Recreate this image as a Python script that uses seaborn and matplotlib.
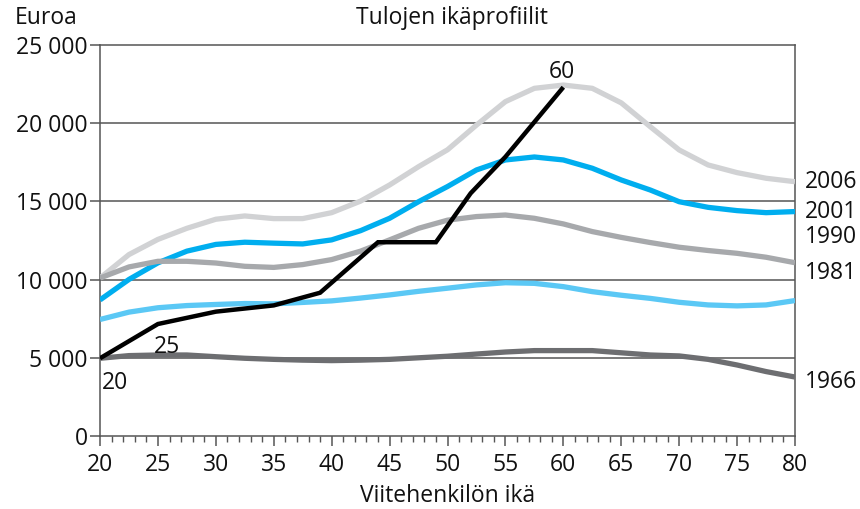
import numpy as np
import pandas as pd
import matplotlib
matplotlib.use("Agg")
import matplotlib.pyplot as plt
import seaborn as sns
from matplotlib.ticker import FuncFormatter, MultipleLocator

# Ikä (viitehenkilö), 2,5 vuoden välein
ika = [20, 22.5, 25, 27.5, 30, 32.5, 35, 37.5, 40, 42.5, 45, 47.5, 50,
       52.5, 55, 57.5, 60, 62.5, 65, 67.5, 70, 72.5, 75, 77.5, 80]

tulot_1966 = [4970, 5140, 5180, 5180, 5070, 4970, 4900, 4850, 4820, 4850, 4900, 5000, 5100,
              5240, 5370, 5460, 5460, 5460, 5320, 5180, 5120, 4900, 4540, 4120, 3770]
tulot_1981 = [7450, 7920, 8200, 8340, 8410, 8470, 8450, 8540, 8640, 8820, 9020, 9250, 9450,
              9660, 9800, 9760, 9550, 9230, 9000, 8800, 8550, 8380, 8320, 8380, 8660]
tulot_1990 = [10100, 10810, 11170, 11170, 11060, 10850, 10780, 10960, 11280, 11820, 12540, 13280, 13800,
              14030, 14130, 13920, 13560, 13070, 12700, 12370, 12070, 11860, 11680, 11430, 11080]
tulot_2001 = [8700, 10010, 11070, 11820, 12250, 12390, 12330, 12280, 12540, 13130, 13920, 14980, 15950,
              17010, 17650, 17840, 17650, 17120, 16370, 15730, 14980, 14620, 14410, 14280, 14350]
tulot_2006 = [10100, 11600, 12570, 13280, 13860, 14070, 13900, 13900, 14280, 15020, 16050, 17220, 18300,
              19880, 21380, 22230, 22440, 22230, 21300, 19780, 18290, 17330, 16840, 16480, 16260]

# Kohortti (ikä 20 -> 60)
kohortti_ika = [20, 25, 30, 35, 39, 44, 49, 52, 55, 60]
kohortti_tulot = [4970, 7160, 7950, 8350, 9160, 12390, 12390, 15520, 17850, 22300]

vuodet = ["2006", "2001", "1990", "1981", "1966"]
sarjat = [tulot_2006, tulot_2001, tulot_1990, tulot_1981, tulot_1966]
varit = ["#d1d2d4", "#00aeef", "#a7a9ac", "#5bc8f5", "#6d6e71"]
# tekstien y-paikat oikealla reunalla
nimi_y = [16250, 14330, 12700, 10400, 3450]

sns.set_style("white")
plt.rcParams['font.family'] = ['Open Sans', 'DejaVu Sans']
fs = 16.5

fig = plt.figure(figsize=(8.6, 5.09), dpi=100)
ax = fig.add_axes([100 / 860, 1 - 436 / 509, 695 / 860, 391 / 509])

# ruudukko
for g in [5000, 10000, 15000, 20000]:
    ax.axhline(g, color="#555555", lw=1.1, zorder=1)

for nimi, arvot, vari in zip(vuodet, sarjat, varit):
    sns.lineplot(x=ika, y=arvot, color=vari, lw=3.8, ax=ax, zorder=3,
                 solid_capstyle="butt", solid_joinstyle="round")

sns.lineplot(x=kohortti_ika, y=kohortti_tulot, color="black", lw=3.2, ax=ax, zorder=4,
             solid_capstyle="butt", solid_joinstyle="miter")

for nimi, y in zip(vuodet, nimi_y):
    ax.annotate(nimi, xy=(80, y), xytext=(7, 0), textcoords="offset points",
                fontsize=fs, va="center", ha="left", annotation_clip=False, color="#111111")

ax.annotate("20", xy=(20, 4970), xytext=(1, -9), textcoords="offset points",
            fontsize=fs, va="top", ha="left", color="#111111")
ax.annotate("25", xy=(25, 7160), xytext=(-3, -8), textcoords="offset points",
            fontsize=fs, va="top", ha="left", color="#111111")
ax.annotate("60", xy=(60, 22300), xytext=(-1, 2), textcoords="offset points",
            fontsize=fs, va="bottom", ha="center", color="#111111")

ax.set_xlim(20, 80)
ax.set_ylim(0, 25000)
ax.xaxis.set_major_locator(MultipleLocator(5))
ax.xaxis.set_minor_locator(MultipleLocator(1))
ax.yaxis.set_major_locator(MultipleLocator(5000))
ax.yaxis.set_major_formatter(FuncFormatter(lambda v, p: f"{int(v):,}".replace(",", " ")))

for s in ax.spines.values():
    s.set_color("#555555")
    s.set_linewidth(1.1)
ax.tick_params(axis="both", which="both", bottom=True, left=True, top=False, right=False)
ax.tick_params(axis="both", which="major", direction="out", length=7, width=1.1,
               color="#555555", labelsize=fs, labelcolor="#111111", pad=2)
ax.tick_params(axis="x", which="minor", direction="out", length=4, width=1.0, color="#555555")
ax.tick_params(axis="x", which="major", pad=5)
ax.set_xlabel("Viitehenkilön ikä", fontsize=fs, labelpad=5, color="#111111")
ax.set_ylabel("")

fig.text(15 / 860, 1 - 18 / 509, "Euroa", fontsize=fs, va="center", ha="left", color="#111111")
fig.text(452 / 860, 1 - 18 / 509, "Tulojen ikäprofiilit", fontsize=fs, va="center", ha="center",
         color="#111111")

fig.savefig("out.png", dpi=100)
